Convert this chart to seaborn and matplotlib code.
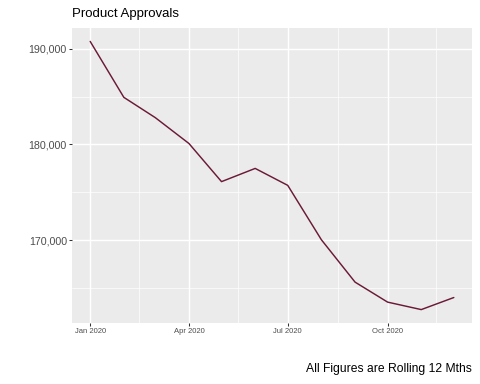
import matplotlib
matplotlib.use("Agg")
import matplotlib.pyplot as plt
import matplotlib.dates as mdates
from matplotlib.ticker import FuncFormatter, FixedLocator
import seaborn as sns
import pandas as pd
import numpy as np

# Data (monthly, 2020)
months = ["2020-01-01", "2020-02-01", "2020-03-01", "2020-04-01", "2020-05-01", "2020-06-01",
          "2020-07-01", "2020-08-01", "2020-09-01", "2020-10-01", "2020-11-01", "2020-12-01"]
approvals = [190760, 184920, 182800, 180100, 176120, 177500,
             175730, 170050, 165630, 163540, 162760, 164020]
x_tick_dates = ["2020-01-01", "2020-04-01", "2020-07-01", "2020-10-01"]
x_tick_labels = ["Jan 2020", "Apr 2020", "Jul 2020", "Oct 2020"]
x_minor_dates = ["2020-02-15", "2020-05-16", "2020-08-16", "2020-11-15"]
y_ticks = [170000, 180000, 190000]
y_minor = [165000, 175000, 185000]

df = pd.DataFrame({"month": pd.to_datetime(months), "approvals": approvals})

sns.set_theme(style="darkgrid")
plt.rcParams["font.family"] = ["Liberation Sans", "DejaVu Sans"]

W, H = 480, 384
fig = plt.figure(figsize=(W / 100, H / 100), dpi=100)
left, right, top, bottom = 72, 472, 28, 323
ax = fig.add_axes([left / W, 1 - bottom / H, (right - left) / W, (bottom - top) / H])
ax.set_facecolor("#EBEBEB")

sns.lineplot(data=df, x="month", y="approvals", ax=ax, color="#6A1A38", linewidth=1.05)

# limits with ggplot-like 5% expansion
d0 = df["month"].min(); d1 = df["month"].max()
span = d1 - d0
ax.set_xlim(d0 - span * 0.05, d1 + span * 0.05)
vmin, vmax = min(approvals), max(approvals)
rng = vmax - vmin
ax.set_ylim(vmin - rng * 0.05, vmax + rng * 0.05)

ax.xaxis.set_major_locator(FixedLocator(mdates.date2num(pd.to_datetime(x_tick_dates))))
ax.xaxis.set_minor_locator(FixedLocator(mdates.date2num(pd.to_datetime(x_minor_dates))))
ax.set_xticklabels(x_tick_labels)
ax.yaxis.set_major_locator(FixedLocator(y_ticks))
ax.yaxis.set_minor_locator(FixedLocator(y_minor))
ax.yaxis.set_major_formatter(FuncFormatter(lambda v, p: f"{int(v):,}"))

ax.grid(which="major", color="white", linewidth=1.05)
ax.grid(which="minor", color="white", linewidth=0.5)
ax.set_axisbelow(True)
for s in ax.spines.values():
    s.set_visible(False)

ax.tick_params(axis="both", which="major", length=2.0, width=0.75, color="#333333",
               labelcolor="#4D4D4D")
ax.tick_params(axis="y", which="major", labelsize=7.7, pad=1.7, left=True)
ax.tick_params(axis="x", which="major", labelsize=5.5, pad=1.4, bottom=True)
ax.tick_params(which="minor", length=0)

ax.set_xlabel("")
ax.set_ylabel("")

fig.text(72.5 / W, 1 - 17.3 / H, "Product Approvals", ha="left", va="baseline",
         fontsize=9.5, color="black")
fig.text(472 / W, 1 - 372 / H, "All Figures are Rolling 12 Mths", ha="right", va="baseline",
         fontsize=8.7, color="black")

fig.savefig("out.png", dpi=100, facecolor="white")
